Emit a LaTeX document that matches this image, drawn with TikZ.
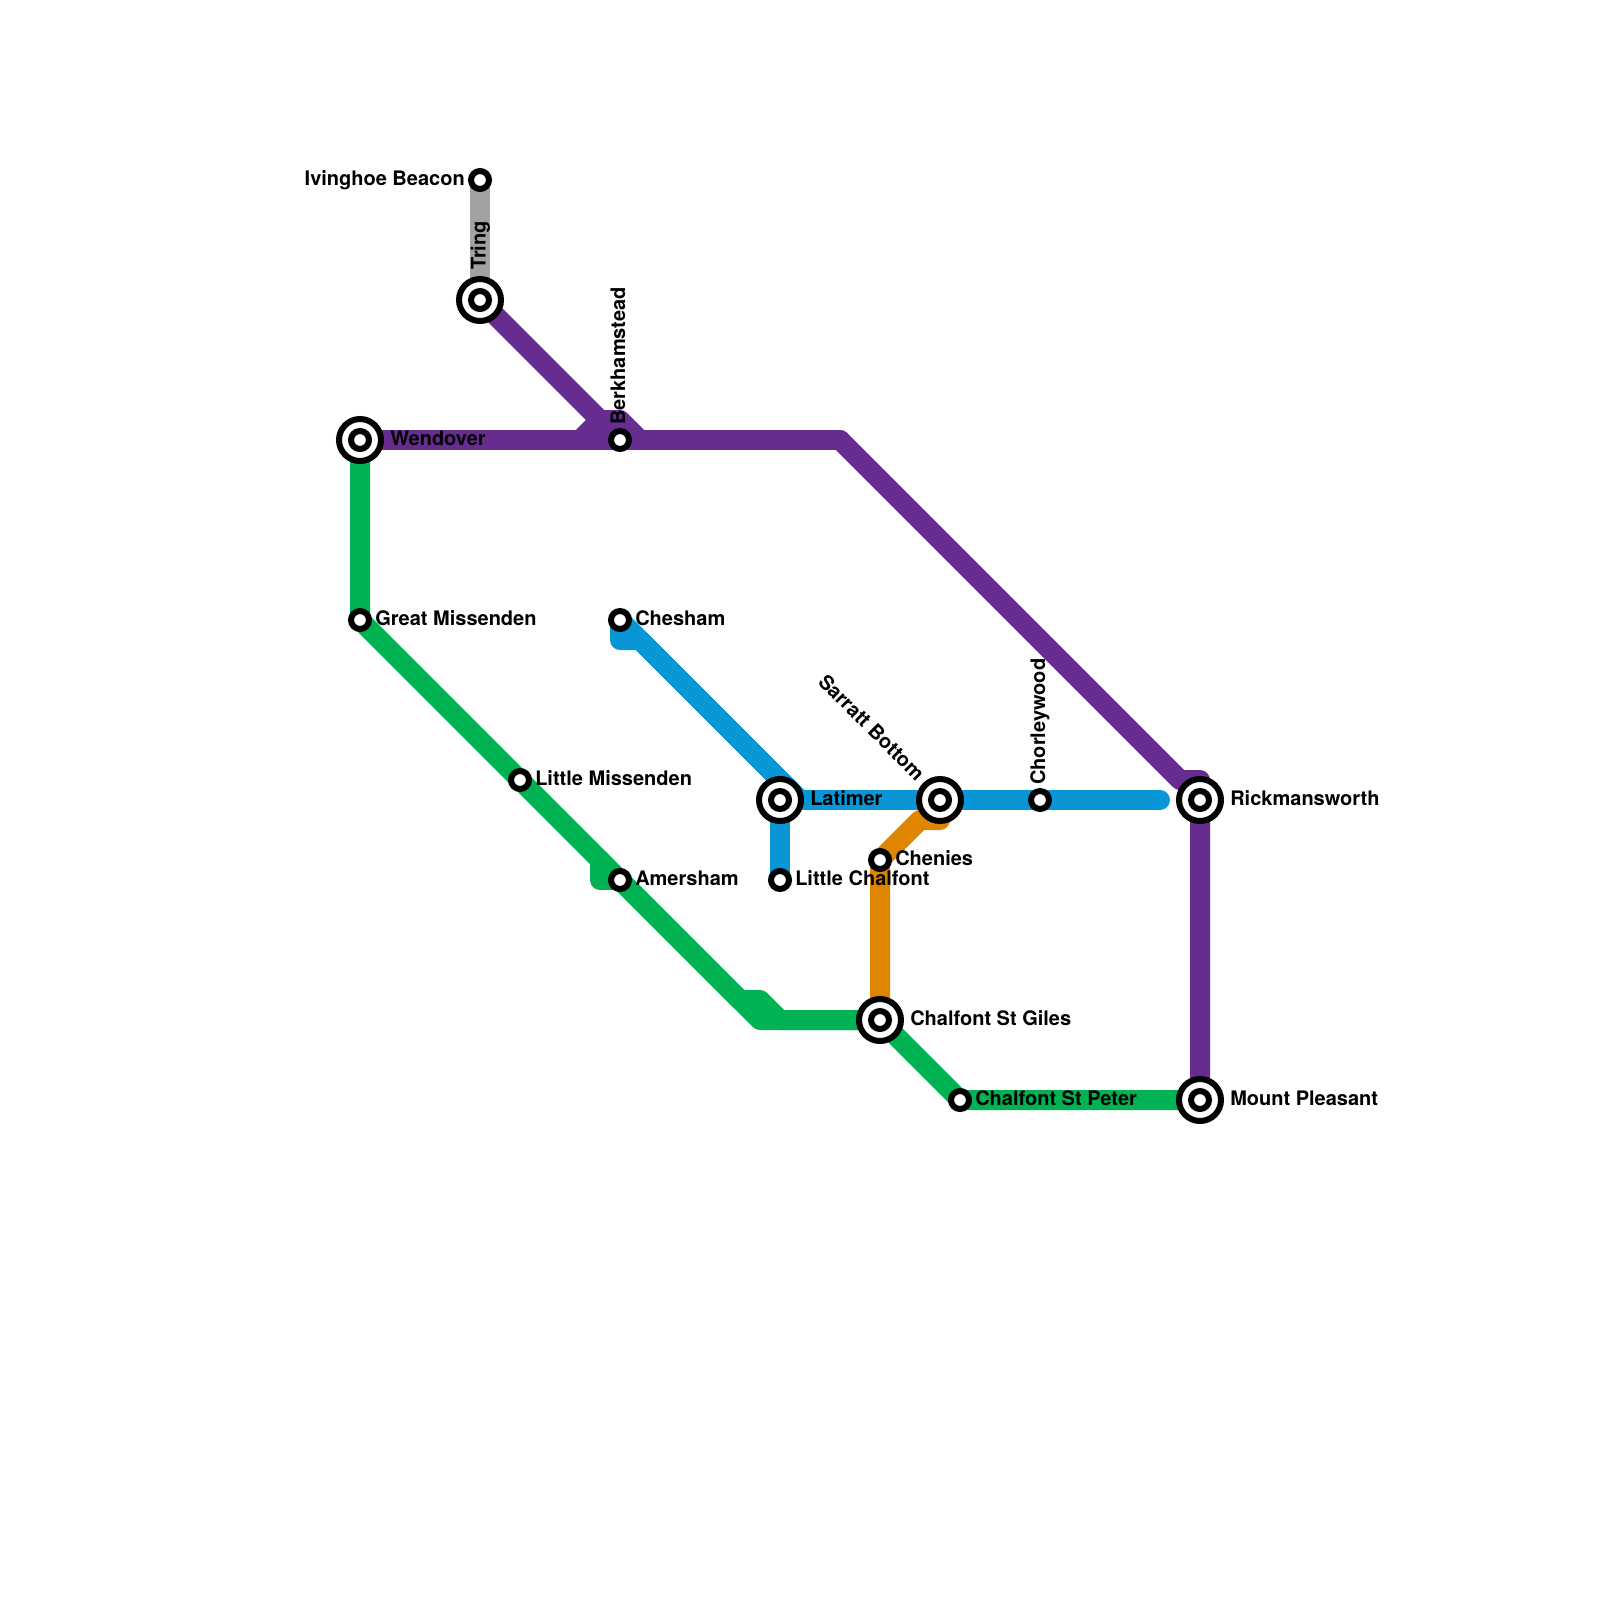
\documentclass[tikz,border=0pt]{standalone}
\usepackage{fontspec}
\setmainfont{TeX Gyre Heros}
\usetikzlibrary{backgrounds}
\definecolor{linePurple}{HTML}{662C90}
\definecolor{lineGreen}{HTML}{00B251}
\definecolor{lineBlue}{HTML}{0896D7}
\definecolor{lineOrange}{HTML}{DF8600}
\definecolor{lineGrey}{HTML}{A2A2A2}
\tikzset{
  route/.style={line width=15pt,line cap=round,line join=round},
  stop/.style={circle,draw=black,fill=white,line width=4.5pt,inner sep=0pt,minimum size=13.5pt},
  bigstop/.style={stop,minimum size=31.5pt},
  name label/.style={inner sep=0pt,font=\bfseries\fontsize{15pt}{15pt}\selectfont}
}
\begin{document}
\begin{tikzpicture}[x=0.75pt,y=0.75pt,yscale=-1,xscale=1]
    \useasboundingbox (0,0) rectangle (1600,1600);
    \node [stop] (Ivinghoe) at (480,180) {};
    \node [bigstop] (Tring) at (480,300) {};
    \node [stop] (TringDot) at (480,300) {};
    \node [bigstop] (Wendover) at (360,440) {};
    \node [stop] (WendoverDot) at (360,440) {};
    \node [stop] (Berkhamstead) at (620,440) {};
    \node [stop] (GreatMissenden) at (360,620) {};
    \node [stop] (LittleMissenden) at (520,780) {};
    \node [stop] (Amersham) at (620,880) {};
    \node [stop] (Chesham) at (620,620) {};
    \node [bigstop] (Latimer) at (780,800) {};
    \node [stop] (LatimerDot) at (780,800) {};
    \node [stop] (LittleChalfont) at (780,880) {};
    \node [bigstop] (Sarratt) at (940,800) {};
    \node [stop] (SarrattDot) at (940,800) {};
    \node [stop] (Chorleywood) at (1040,800) {};
    \node [bigstop] (Rickmansworth) at (1200,800) {};
    \node [stop] (RickmansworthDot) at (1200,800) {};
    \node [stop] (Chenies) at (880,860) {};
    \node [bigstop] (ChalfontGiles) at (880,1020) {};
    \node [stop] (ChalfontGilesDot) at (880,1020) {};
    \node [stop] (ChalfontPeter) at (960,1100) {};
    \node [bigstop] (MountPleasant) at (1200,1100) {};
    \node [stop] (MountPleasantDot) at (1200,1100) {};
    \coordinate (p1) at (580,440);
    \coordinate (p2) at (600,420);
    \coordinate (p3) at (620,420);
    \coordinate (p4) at (640,440);
    \coordinate (p5) at (840,440);
    \coordinate (p6) at (1180,780);
    \coordinate (p7) at (1200,780);
    \coordinate (g1) at (600,860);
    \coordinate (g2) at (600,880);
    \coordinate (g3) at (740,1000);
    \coordinate (g4) at (760,1000);
    \coordinate (g5) at (780,1020);
    \coordinate (g6) at (760,1020);
    \coordinate (b1) at (620,640);
    \coordinate (b2) at (640,640);
    \coordinate (b3) at (800,800);
    \coordinate (b4) at (1160,800);
    \coordinate (o1) at (940,820);
    \coordinate (o2) at (920,820);
    \begin{scope}[on background layer]
        \draw [route,color=lineGrey] (Ivinghoe.center) -- (Tring.center);
        \draw [route,color=lineGreen] (Wendover.center) -- (GreatMissenden.center) -- (Amersham.center) -- (g6) -- (ChalfontGiles.center) -- (ChalfontPeter.center) -- (MountPleasant.center);
        \draw [route,color=lineGreen] (g1) -- (g2) -- (Amersham.center);
        \draw [route,color=lineGreen] (Amersham.center) -- (g3) -- (g4) -- (g5) -- (ChalfontGiles.center);
        \draw [route,color=lineBlue] (Chesham.center) -- (b1) -- (b2) -- (b3);
        \draw [route,color=lineBlue] (Chesham.center) -- (b3);
        \draw [route,color=lineBlue] (Latimer.center) -- (LittleChalfont.center);
        \draw [route,color=lineBlue] (Latimer.center) -- (b4);
        \draw [route,color=lineOrange] (ChalfontGiles.center) -- (Chenies.center) -- (o2) -- (o1) -- (Sarratt.center);
        \draw [route,color=linePurple] (Wendover.center) -- (p5);
        \draw [route,color=linePurple] (p1) -- (p2) -- (p3) -- (p4);
        \draw [route,color=linePurple] (Tring.center) -- (p2);
        \draw [route,color=linePurple] (p5) -- (p6) -- (p7) -- (MountPleasant.center);
    \end{scope}
    \node [name label,anchor=base east] (lblIvinghoe) at (465,185) {Ivinghoe Beacon};
    \node [name label,anchor=base west,rotate=90] (lblTring) at (485.5,270) {Tring};
    \node [name label,anchor=base west] (lblWendover) at (390,445) {Wendover};
    \node [name label,anchor=base west,rotate=90] (lblBerkhamstead) at (625,425) {Berkhamstead};
    \node [name label,anchor=base west] (lblGreatMissenden) at (375,625) {Great Missenden};
    \node [name label,anchor=base west] (lblLittleMissenden) at (535,785) {Little Missenden};
    \node [name label,anchor=base west] (lblAmersham) at (635,885) {Amersham};
    \node [name label,anchor=base west] (lblChesham) at (635,625) {Chesham};
    \node [name label,anchor=base west] (lblLatimer) at (810,805) {Latimer};
    \node [name label,anchor=base west] (lblLittleChalfont) at (795,885) {Little Chalfont};
    \node [name label,anchor=base east,rotate=-45] (lblSarratt) at (916,782) {Sarratt Bottom};
    \node [name label,anchor=base west,rotate=90] (lblChorleywood) at (1045,785) {Chorleywood};
    \node [name label,anchor=base west] (lblRickmansworth) at (1230,805) {Rickmansworth};
    \node [name label,anchor=base west] (lblChenies) at (895,865) {Chenies};
    \node [name label,anchor=base west] (lblChalfontGiles) at (910,1025) {Chalfont St Giles};
    \node [name label,anchor=base west] (lblChalfontPeter) at (975,1105) {Chalfont St Peter};
    \node [name label,anchor=base west] (lblMountPleasant) at (1230,1105) {Mount Pleasant};
\end{tikzpicture}
\end{document}
